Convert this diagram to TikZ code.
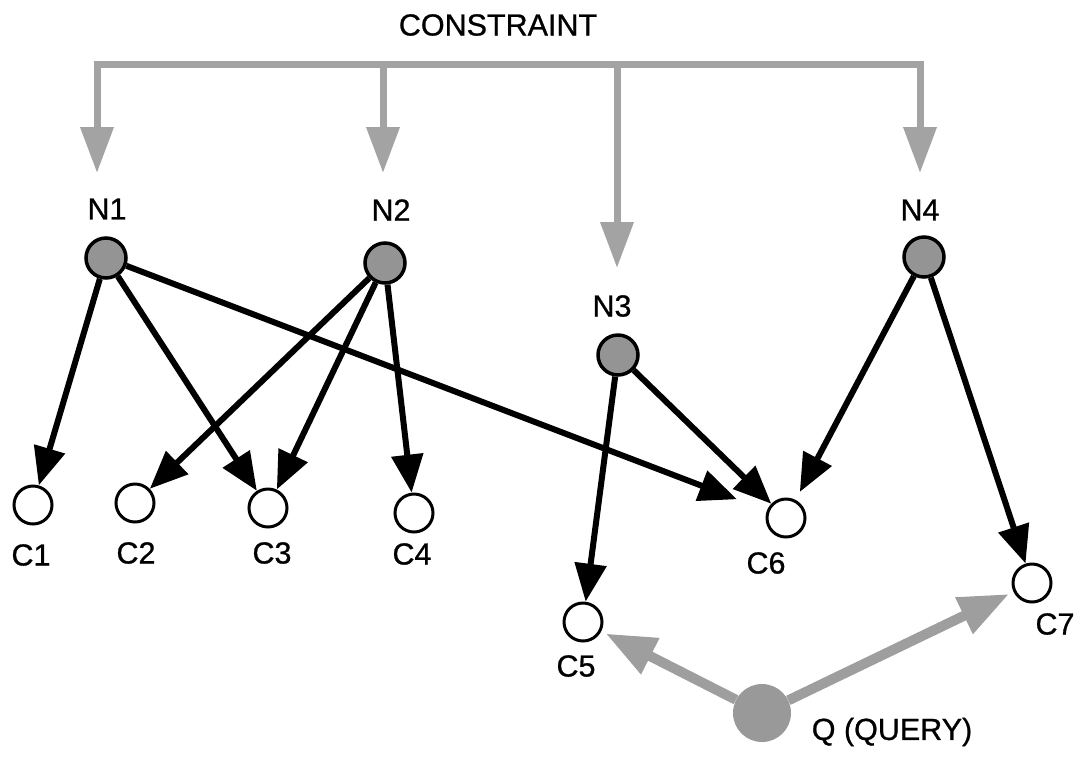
\documentclass[tikz,border=0pt]{standalone}
\usepackage{fontspec}
\setmainfont{Liberation Sans}[FakeBold=0.8]
\usetikzlibrary{arrows.meta}
\begin{document}
\begin{tikzpicture}[x=1pt,y=-1pt,
  lbl/.style={font=\fontsize{30.5}{30.5}\selectfont, inner sep=0pt},
  nnode/.style={circle, draw=black, line width=3.5pt, fill=black!42, minimum size=40pt, inner sep=0pt},
  cnode/.style={circle, draw=black, line width=3pt, fill=white, minimum size=38pt, inner sep=0pt},
  qnode/.style={circle, fill=black!40, minimum size=58pt, inner sep=0pt},
  link/.style={draw=black, line width=6pt, -{Triangle[width=31pt,length=38pt]}},
  cline/.style={draw=black!36, line width=7pt},
  carrow/.style={cline, -{Triangle[width=32pt,length=46pt]}},
  qarrow/.style={draw=black!38, line width=10pt, -{Triangle[width=38pt,length=50pt]}},
]
\useasboundingbox (0,0) rectangle (1078,756);

% title
\node[lbl] (title) at (498,25) {CONSTRAINT};

% network nodes and their labels
\node[nnode] (N1) at (106,258) {};
\node[nnode] (N2) at (385,263) {};
\node[nnode] (N3) at (618,355) {};
\node[nnode] (N4) at (924,257) {};
\node[lbl] (lN1) at (107,209) {N1};
\node[lbl] (lN2) at (391,210) {N2};
\node[lbl] (lN3) at (612,306) {N3};
\node[lbl] (lN4) at (920,210) {N4};

% candidate nodes and their labels
\node[cnode] (C1) at (33,505) {};
\node[cnode] (C2) at (135,503) {};
\node[cnode] (C3) at (268,508) {};
\node[cnode] (C4) at (414,513) {};
\node[cnode] (C5) at (583,622) {};
\node[cnode] (C6) at (786,518) {};
\node[cnode] (C7) at (1032,583) {};
\node[lbl] (lC1) at (31,555) {C1};
\node[lbl] (lC2) at (136,553) {C2};
\node[lbl] (lC3) at (272,553) {C3};
\node[lbl] (lC4) at (412,554) {C4};
\node[lbl] (lC5) at (576,666) {C5};
\node[lbl] (lC6) at (766,563) {C6};
\node[lbl] (lC7) at (1055,624) {C7};

% query node
\node[qnode] (Q) at (762,713) {};
\node[lbl] (lQ) at (892,732) {Q (QUERY)};

% constraint distribution bar
\coordinate (b1) at (97,64);
\coordinate (b2) at (383,64);
\coordinate (b3) at (617,64);
\coordinate (b4) at (920,64);
\coordinate (t1) at (97,173);
\coordinate (t2) at (383,173);
\coordinate (t3) at (617,268);
\coordinate (t4) at (920,173);
\draw[cline, line cap=rect] (b1) -- (b4);
\draw[carrow] (b1) -- (t1);
\draw[carrow] (b2) -- (t2);
\draw[carrow] (b3) -- (t3);
\draw[carrow] (b4) -- (t4);

% links from network nodes to candidates
\draw[link] (N1) -- (C1);
\draw[link] (N1) -- (C3);
\draw[link, shorten >=32pt] (N1) -- (C6);
\draw[link] (N2) -- (C2);
\draw[link] (N2) -- (C3);
\draw[link] (N2) -- (C4);
\draw[link] (N3) -- (C5);
\draw[link] (N3) -- (C6);
\draw[link, shorten >=9pt] (N4) -- (C6);
\draw[link] (N4) -- (C7);

% query links
\draw[qarrow, shorten >=5pt] (Q) -- (C5);
\draw[qarrow, shorten >=5pt] (Q) -- (C7);
\end{tikzpicture}
\end{document}
